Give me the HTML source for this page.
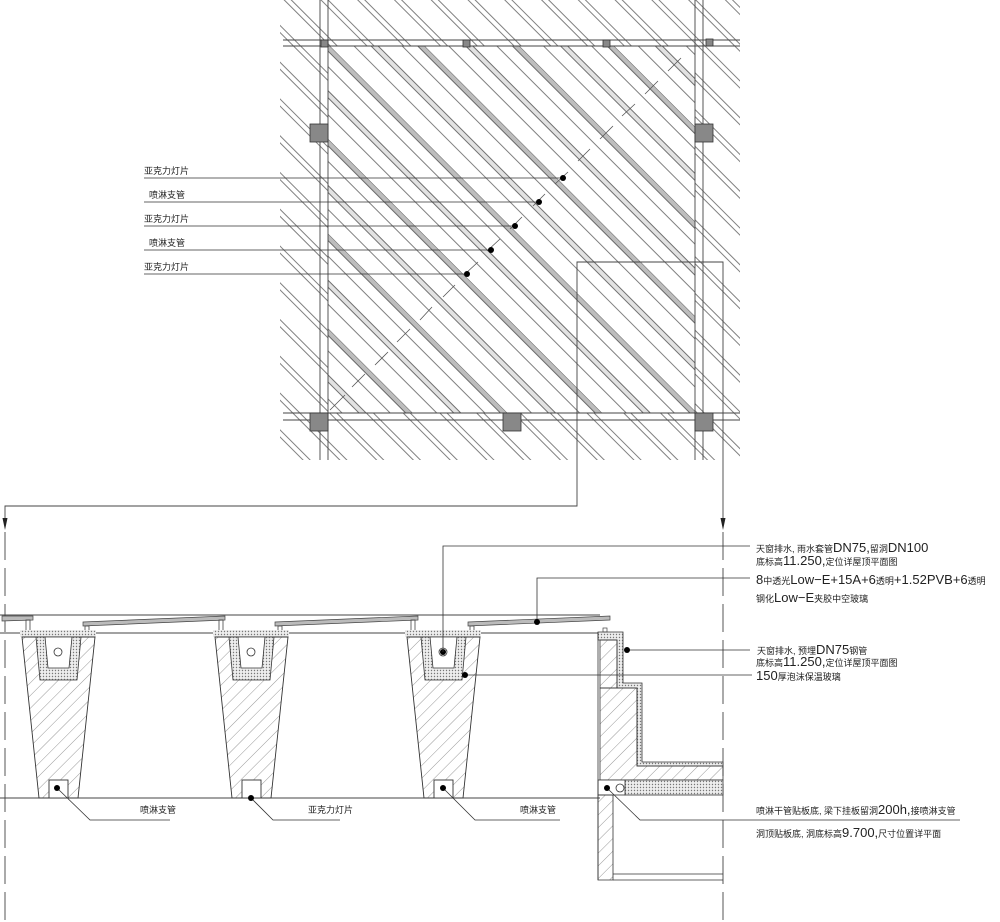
<!DOCTYPE html>
<html><head><meta charset="utf-8"><style>
html,body{margin:0;padding:0;background:#fff;}
svg{display:block;}
text{font-family:"Liberation Sans","Noto Sans CJK SC",sans-serif;fill:#222;}
.c{font-size:9px;}
.n{font-size:13px;}
</style></head><body>
<svg width="1000" height="922" viewBox="0 0 1000 922" xmlns="http://www.w3.org/2000/svg">
<defs>
<pattern id="outer" width="26" height="26" patternUnits="userSpaceOnUse" patternTransform="rotate(45)">
<line x1="0" y1="2" x2="26" y2="2" stroke="#555" stroke-width="0.7"/>
<line x1="0" y1="7" x2="26" y2="7" stroke="#555" stroke-width="0.7"/>
</pattern>
<pattern id="inner" width="67" height="67" patternUnits="userSpaceOnUse" patternTransform="translate(330,46) rotate(45)">
<rect x="0" y="0" width="67" height="5" fill="#bdbdbd"/>
<line x1="0" y1="0" x2="67" y2="0" stroke="#444" stroke-width="0.8"/>
<line x1="0" y1="5" x2="67" y2="5" stroke="#444" stroke-width="0.8"/>
<line x1="0" y1="16" x2="67" y2="16" stroke="#555" stroke-width="0.7"/>
<rect x="0" y="33" width="67" height="5" fill="#e2e2e2"/>
<line x1="0" y1="33" x2="67" y2="33" stroke="#444" stroke-width="0.8"/>
<line x1="0" y1="38" x2="67" y2="38" stroke="#444" stroke-width="0.8"/>
<line x1="0" y1="50" x2="67" y2="50" stroke="#555" stroke-width="0.7"/>
</pattern>
<pattern id="conc" width="9" height="9" patternUnits="userSpaceOnUse" patternTransform="rotate(-45)">
<line x1="0" y1="0" x2="9" y2="0" stroke="#555" stroke-width="0.6"/>
</pattern>
<pattern id="dots" width="3" height="3" patternUnits="userSpaceOnUse">
<rect width="3" height="3" fill="#eee"/>
<circle cx="1.5" cy="1.5" r="0.7" fill="#777"/>
</pattern>
<clipPath id="outclip"><path clip-rule="evenodd" d="M280 0H740V460H280Z M328 46H695V413H328Z"/></clipPath>
<clipPath id="inclip"><rect x="328" y="46" width="367" height="367"/></clipPath>
</defs>

<!-- PLAN -->
<rect x="280" y="0" width="460" height="460" fill="url(#outer)" clip-path="url(#outclip)"/>
<rect x="328" y="46" width="367" height="367" fill="url(#inner)"/>
<g clip-path="url(#inclip)" stroke="#555" stroke-width="0.8">
<path d="M330 410 L345 395 M352 387 L365 374 M375 365 L388 352 M397 342 L410 329 M420 320 L432 307 M443 297 L455 285 M465 274 L478 262 M487 251 L500 239 M510 229 L522 217 M533 206 L545 194 M555 184 L568 172 M578 161 L590 149 M600 139 L613 126 M622 116 L635 104 M645 94 L658 81 M668 71 L681 58"/>
</g>
<g fill="none" stroke="#444" stroke-width="0.9">
<line x1="320" y1="0" x2="320" y2="460"/><line x1="328" y1="0" x2="328" y2="460"/>
<line x1="695" y1="0" x2="695" y2="460"/><line x1="703" y1="0" x2="703" y2="460"/>
<line x1="283" y1="40" x2="740" y2="40"/><line x1="283" y1="46" x2="740" y2="46"/>
<line x1="283" y1="413" x2="740" y2="413"/><line x1="283" y1="420" x2="740" y2="420"/>
</g>
<g fill="#888" stroke="#333" stroke-width="0.8">
<rect x="321" y="40" width="7" height="7"/><rect x="463" y="40" width="7" height="7"/><rect x="603" y="40" width="7" height="7"/><rect x="706" y="39" width="7" height="7"/>
<rect x="310" y="124" width="18" height="18"/><rect x="695" y="124" width="18" height="18"/>
<rect x="310" y="413" width="18" height="18"/><rect x="503" y="413" width="18" height="18"/><rect x="695" y="413" width="18" height="18"/>
</g>
<!-- plan leaders -->
<g stroke="#333" stroke-width="0.8">
<line x1="144" y1="178" x2="563" y2="178"/><line x1="144" y1="202" x2="539" y2="202"/>
<line x1="144" y1="226" x2="515" y2="226"/><line x1="144" y1="250" x2="491" y2="250"/>
<line x1="144" y1="274" x2="467" y2="274"/>
</g>
<g fill="#000"><circle cx="563" cy="178" r="3"/><circle cx="539" cy="202" r="3"/><circle cx="515" cy="226" r="3"/><circle cx="491" cy="250" r="3"/><circle cx="467" cy="274" r="3"/></g>
<text class="c" x="144" y="174">亚克力灯片</text>
<text class="c" x="149" y="198">喷淋支管</text>
<text class="c" x="144" y="222">亚克力灯片</text>
<text class="c" x="149" y="246">喷淋支管</text>
<text class="c" x="144" y="270">亚克力灯片</text>
<!-- callout -->
<g fill="none" stroke="#444" stroke-width="0.9">
<path d="M577 460 V262 H723 V460"/>
<path d="M577 460 V506 H5 V520"/>
<path d="M723 460 V520"/>
<line x1="5" y1="532" x2="5" y2="922" stroke-dasharray="28,8"/>
<line x1="723" y1="532" x2="723" y2="922" stroke-dasharray="28,8"/>
</g>
<path d="M2.5 518 L7.5 518 L5 530 Z" fill="#222"/>
<path d="M720.5 518 L725.5 518 L723 530 Z" fill="#222"/>

<!-- SECTION -->
<g stroke="#444" stroke-width="0.9" fill="none">
<line x1="0" y1="615" x2="600" y2="615"/>
<line x1="0" y1="633" x2="600" y2="633"/>
<line x1="0" y1="798" x2="600" y2="798"/>
</g>
<g fill="#bbb" stroke="#444" stroke-width="0.7">
<polygon points="2,616 33,616 33,620 2,621"/>
<polygon points="83,622 225,616 225,620 83,626"/>
<polygon points="275,622 418,616 418,620 275,626"/>
<polygon points="468,622 610,616 610,620 468,626"/>
</g>
<g id="trough">
<g fill="none" stroke="#444" stroke-width="0.8">
<rect x="26" y="620" width="4" height="13"/><rect x="85" y="626" width="4" height="8"/>
</g>
<rect x="20" y="630" width="76" height="7" fill="url(#dots)"/>
<polygon points="22,637 95,637 78,798 39,798" fill="url(#conc)" stroke="#333" stroke-width="0.9"/>
<polygon points="36,637 81,637 77,680 40,680" fill="url(#dots)" stroke="#333" stroke-width="0.8"/>
<polygon points="45,637 72,637 69,668 48,668" fill="#fff" stroke="#333" stroke-width="0.8"/>
<circle cx="58" cy="652" r="4" fill="#fff" stroke="#333" stroke-width="0.8"/>
<rect x="49" y="780" width="19" height="18" fill="#fff" stroke="#333" stroke-width="0.9"/>
</g>
<use href="#trough" x="193"/>
<use href="#trough" x="385"/>
<circle cx="443" cy="652" r="3" fill="#000"/>
<!-- right wall -->
<polygon points="598,632 623,632 623,683 642,683 642,762 723,762 723,766 637,766 637,688 617,688 617,640 598,640" fill="url(#dots)" stroke="#333" stroke-width="0.8"/>
<polygon points="600,640 617,640 617,688 600,688" fill="url(#conc)" stroke="#333" stroke-width="0.8"/>
<polygon points="600,688 637,688 637,766 723,766 723,780 600,780" fill="url(#conc)" stroke="#333" stroke-width="0.8"/>
<rect x="625" y="780" width="98" height="15" fill="url(#dots)" stroke="#333" stroke-width="0.8"/>
<rect x="598" y="780" width="27" height="15" fill="#fff" stroke="#333" stroke-width="0.8"/>
<polygon points="598,795 613,795 613,880 598,880" fill="url(#conc)" stroke="#333" stroke-width="0.8"/>
<g stroke="#333" stroke-width="0.8"><line x1="598" y1="632" x2="598" y2="880"/><line x1="613" y1="874" x2="723" y2="874"/><line x1="613" y1="880" x2="723" y2="880"/></g>
<circle cx="620" cy="788" r="4" fill="#fff" stroke="#333" stroke-width="0.8"/>
<rect x="603" y="628" width="4" height="4" fill="none" stroke="#444" stroke-width="0.7"/>
<!-- section leaders -->
<g fill="none" stroke="#333" stroke-width="0.8">
<path d="M57 788 L90 820 H170"/>
<path d="M251 798 L273 820 H340"/>
<path d="M443 788 L475 820 H560"/>
<path d="M443 652 V546 H750"/>
<path d="M537 622 V578 H750"/>
<path d="M627 650 H750"/>
<path d="M465 675 H752"/>
<path d="M607 788 L640 820 H960"/>
</g>
<g fill="#000">
<circle cx="57" cy="788" r="3"/><circle cx="251" cy="798" r="3"/><circle cx="443" cy="788" r="3"/>
<circle cx="537" cy="622" r="3"/><circle cx="627" cy="650" r="3"/><circle cx="465" cy="675" r="3"/><circle cx="607" cy="788" r="3"/>
</g>
<text class="c" x="140" y="813">喷淋支管</text>
<text class="c" x="308" y="813">亚克力灯片</text>
<text class="c" x="520" y="813">喷淋支管</text>
<text x="756" y="552"><tspan class="c">天窗排水, 雨水套管</tspan><tspan class="n">DN75,</tspan><tspan class="c">留洞</tspan><tspan class="n">DN100</tspan></text>
<text x="756" y="565"><tspan class="c">底标高</tspan><tspan class="n">11.250,</tspan><tspan class="c">定位详屋顶平面图</tspan></text>
<text x="756" y="584"><tspan class="n">8</tspan><tspan class="c">中透光</tspan><tspan class="n">Low−E+15A+6</tspan><tspan class="c">透明</tspan><tspan class="n">+1.52PVB+6</tspan><tspan class="c">透明</tspan></text>
<text x="756" y="602"><tspan class="c">钢化</tspan><tspan class="n">Low−E</tspan><tspan class="c">夹胶中空玻璃</tspan></text>
<text x="757" y="654"><tspan class="c">天窗排水, 预埋</tspan><tspan class="n">DN75</tspan><tspan class="c">钢管</tspan></text>
<text x="756" y="666"><tspan class="c">底标高</tspan><tspan class="n">11.250,</tspan><tspan class="c">定位详屋顶平面图</tspan></text>
<text x="756" y="680"><tspan class="n">150</tspan><tspan class="c">厚泡沫保温玻璃</tspan></text>
<text x="756" y="814"><tspan class="c">喷淋干管贴板底, 梁下挂板留洞</tspan><tspan class="n">200h,</tspan><tspan class="c">接喷淋支管</tspan></text>
<text x="756" y="837"><tspan class="c">洞顶贴板底, 洞底标高</tspan><tspan class="n">9.700,</tspan><tspan class="c">尺寸位置详平面</tspan></text>
</svg>
</body></html>
